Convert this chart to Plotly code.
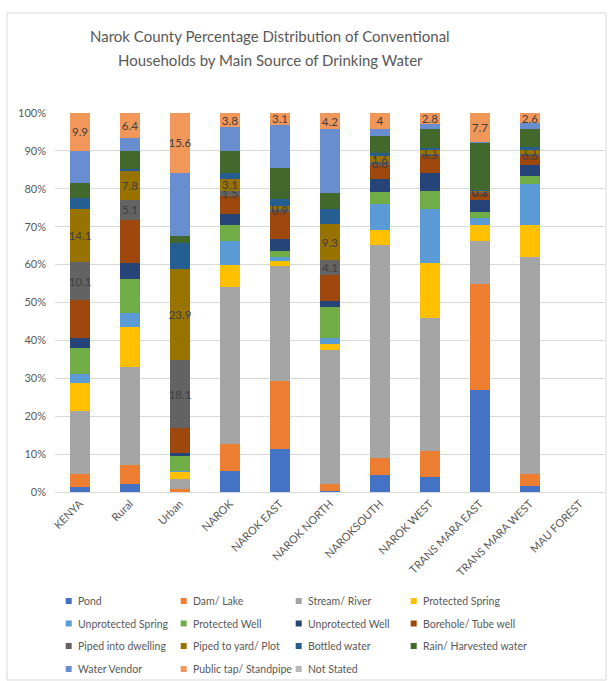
import plotly.graph_objects as go

# Areas shown along the x axis
areas = ["KENYA", "Rural", "Urban", "NAROK", "NAROK EAST", "NAROK NORTH",
         "NAROKSOUTH", "NAROK WEST", "TRANS MARA EAST", "TRANS MARA WEST",
         "MAU FOREST"]

# Percentage of conventional households by main drinking-water source
pond = [1.4, 2.2, 0.1, 5.5, 11.4, 0.3, 4.4, 4.0, 26.8, 1.7, None]
dam_lake = [3.3, 4.9, 0.8, 7.2, 17.8, 1.7, 4.5, 6.9, 28.2, 3.0, None]
stream_river = [16.8, 25.9, 2.5, 41.3, 30.4, 35.4, 56.3, 35.1, 11.1, 57.3, None]
protected_spring = [7.3, 10.6, 1.9, 5.9, 1.4, 1.7, 4.0, 14.4, 4.3, 8.4, None]
unprotected_spring = [2.3, 3.7, 0.2, 6.3, 1.1, 1.6, 6.7, 14.2, 2.0, 10.8, None]
protected_well = [7.0, 9.0, 4.1, 4.3, 1.5, 8.2, 3.3, 4.9, 1.5, 2.3, None]
unprotected_well = [2.5, 4.0, 0.6, 2.9, 3.1, 1.4, 3.3, 4.6, 3.1, 2.8, None]
borehole = [10.0, 11.6, 6.6, 4.6, 7.2, 6.9, 3.7, 4.7, 2.0, 2.3, None]
piped_dwelling = [10.1, 5.1, 18.1, 1.5, 0.7, 4.1, 0.8, 0.5, 0.3, 0.6, None]
piped_yard = [14.1, 7.8, 23.9, 3.1, 0.8, 9.3, 1.6, 1.1, 0.2, 1.1, None]
bottled = [2.9, 0.4, 6.8, 1.6, 1.9, 4.2, 0.8, 0.4, 0.2, 0.6, None]
rain = [3.9, 4.9, 2.0, 5.7, 8.3, 4.2, 4.5, 5.1, 12.4, 5.0, None]
vendor = [8.5, 3.4, 16.7, 6.3, 11.3, 16.7, 2.0, 1.3, 0.2, 1.4, None]
public_tap = [9.9, 6.4, 15.6, 3.8, 3.1, 4.2, 4, 2.8, 7.7, 2.6, None]
not_stated = [0, 0, 0, 0, 0, 0, 0, 0, 0, 0, None]

series = [
    ("Pond", pond, "#4472C4", False),
    ("Dam/ Lake", dam_lake, "#ED7D31", False),
    ("Stream/ River", stream_river, "#A5A5A5", False),
    ("Protected Spring", protected_spring, "#FFC000", False),
    ("Unprotected Spring", unprotected_spring, "#5B9BD5", False),
    ("Protected Well", protected_well, "#70AD47", False),
    ("Unprotected Well", unprotected_well, "#264478", False),
    ("Borehole/ Tube well", borehole, "#9E480E", False),
    ("Piped into dwelling", piped_dwelling, "#636363", True),
    ("Piped to yard/ Plot", piped_yard, "#997300", True),
    ("Bottled water", bottled, "#255E91", False),
    ("Rain/ Harvested water", rain, "#43682B", False),
    ("Water Vendor", vendor, "#698ED0", False),
    ("Public tap/ Standpipe", public_tap, "#F1975A", True),
    ("Not Stated", not_stated, "#B7B7B7", False),
]

FONT = "Lato"
GREY_TEXT = "#595959"
W, H = 610, 681

# plot area spans x 55..605, y 113..492
L, R, T, B = 55, 5, 113, 189
pw, ph = W - L - R, H - T - B


def px_x(px):
    return (px - L) / pw


def px_y(py):
    return (H - B - py) / ph


def fmt(v):
    if v is None:
        return ""
    return f"{v:g}"


fig = go.Figure()
for name, vals, color, labelled in series:
    fig.add_trace(go.Bar(
        name=name, x=areas, y=vals,
        marker=dict(color=color, line=dict(width=0)),
        text=[fmt(v) for v in vals] if labelled else None,
        texttemplate="%{text}" if labelled else None,
        textposition="inside" if labelled else "none",
        insidetextanchor="middle",
        textangle=0,
        textfont=dict(family=FONT, size=11.5, color="#404040"),
        showlegend=False,
        hoverinfo="name+y",
    ))

# Legend: four columns, entries fill rows left to right
col_text_x = [75.7, 190.7, 305.7, 420.7]
row_y = [601, 623.5, 646, 669]
shapes = []
annotations = []
for i, (name, _vals, color, _lab) in enumerate(series):
    tx, ty = col_text_x[i % 4], row_y[i // 4]
    shapes.append(dict(
        type="rect", xref="paper", yref="paper",
        x0=px_x(tx - 10), x1=px_x(tx - 4), y0=px_y(ty + 3), y1=px_y(ty - 3),
        fillcolor=color, line=dict(width=0),
    ))
    annotations.append(dict(
        text=name, xref="paper", yref="paper", x=px_x(tx), y=px_y(ty),
        xanchor="left", yanchor="middle", showarrow=False,
        font=dict(family=FONT, size=10.5, color=GREY_TEXT),
    ))

# Chart title, two centred lines
title_lines = ["Narok County Percentage Distribution of Conventional",
               "Households by Main Source of Drinking Water"]
title_y = [36, 60]
for t, yy in zip(title_lines, title_y):
    annotations.append(dict(
        text=t, xref="paper", yref="paper", x=px_x(270), y=px_y(yy),
        xanchor="center", yanchor="middle", showarrow=False,
        font=dict(family=FONT, size=15, color=GREY_TEXT),
    ))

# chart-area border
shapes.append(dict(
    type="rect", xref="paper", yref="paper",
    x0=px_x(7), x1=px_x(606), y0=px_y(680), y1=px_y(13),
    line=dict(color="#D9D9D9", width=1), fillcolor="rgba(0,0,0,0)",
    layer="below",
))

fig.update_layout(
    width=W, height=H,
    margin=dict(l=L, r=R, t=T, b=B, autoexpand=False),
    paper_bgcolor="white", plot_bgcolor="white",
    barmode="stack", bargap=0.6,
    font=dict(family=FONT, color=GREY_TEXT),
    uniformtext=dict(mode="show", minsize=11.5),
    showlegend=False,
    xaxis=dict(
        showline=True, linecolor="#D9D9D9", linewidth=1,
        ticks="", tickangle=-45, automargin=False,
        tickfont=dict(family=FONT, size=11, color=GREY_TEXT),
        showgrid=False,
    ),
    yaxis=dict(
        range=[0, 100], dtick=10, ticksuffix="%",
        showgrid=True, gridcolor="#D9D9D9", gridwidth=1,
        zeroline=False, showline=False, ticks="", automargin=False,
        ticklabelstandoff=8,
        tickfont=dict(family=FONT, size=11, color=GREY_TEXT),
    ),
    annotations=annotations,
    shapes=shapes,
)

fig.write_html("out.html")
